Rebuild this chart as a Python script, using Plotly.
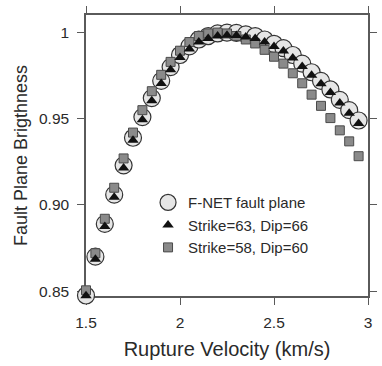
import plotly.graph_objects as go

velocity = [1.50, 1.55, 1.60, 1.65, 1.70, 1.75, 1.80, 1.85, 1.90, 1.95,
            2.00, 2.05, 2.10, 2.15, 2.20, 2.25, 2.30, 2.35, 2.40, 2.45,
            2.50, 2.55, 2.60, 2.65, 2.70, 2.75, 2.80, 2.85, 2.90, 2.95]

fnet = [0.8475, 0.870, 0.889, 0.906, 0.923, 0.939, 0.951, 0.962, 0.972, 0.980,
        0.987, 0.992, 0.996, 0.998, 0.9995, 1.000, 0.9998, 0.999, 0.998, 0.996,
        0.9935, 0.991, 0.987, 0.982, 0.977, 0.972, 0.967, 0.961, 0.955, 0.949]

s63d66 = [0.8474, 0.8685, 0.8875, 0.9045, 0.9215, 0.9375, 0.9495, 0.9605, 0.9705, 0.9785,
          0.9855, 0.9905, 0.9945, 0.9965, 0.998, 0.9985, 0.9983, 0.9975, 0.9965, 0.9945,
          0.992, 0.9893, 0.9853, 0.9803, 0.9753, 0.9703, 0.9652, 0.9592, 0.9532, 0.9472]

s58d60 = [0.8505, 0.872, 0.892, 0.910, 0.927, 0.942, 0.955, 0.966, 0.9755, 0.983,
          0.9895, 0.9945, 0.998, 0.9995, 1.000, 0.9995, 0.998, 0.996, 0.9937, 0.990,
          0.986, 0.982, 0.9764, 0.9706, 0.964, 0.9575, 0.9504, 0.9433, 0.9369, 0.9283]

series_names = ["F-NET fault plane", "Strike=63, Dip=66", "Strike=58, Dip=60"]
x_ticks = [1.5, 2, 2.5, 3]
x_ticktext = ["1.5", "2", "2.5", "3"]
y_ticks = [0.85, 0.90, 0.95, 1.0]
y_ticktext = ["0.85", "0.90", "0.95", "1"]

FONT = "Liberation Sans, Arial, sans-serif"
TXT = "#2a2a2a"

fig = go.Figure()
fig.add_trace(go.Scatter(
    x=velocity, y=fnet, mode="markers", name=series_names[0], cliponaxis=False,
    legendrank=1,
    marker=dict(symbol="circle", size=17, color="#e6e6e6",
                line=dict(color="#333333", width=1.2))))
fig.add_trace(go.Scatter(
    x=velocity, y=s58d60, mode="markers", name=series_names[2], cliponaxis=False,
    legendrank=3,
    marker=dict(symbol="square", size=9, color="#8a8a8a",
                line=dict(color="#4a4a4a", width=1))))
fig.add_trace(go.Scatter(
    x=velocity, y=s63d66, mode="markers", name=series_names[1], cliponaxis=False,
    legendrank=2,
    marker=dict(symbol="triangle-up", size=10, color="#111111",
                line=dict(color="#111111", width=0))))

axis_common = dict(showline=True, linecolor="#5a5a5a", linewidth=1.5, mirror="ticks",
                   ticks="outside", ticklen=7, tickwidth=1.2, tickcolor="#5a5a5a",
                   showgrid=False, zeroline=False, layer="below traces",
                   automargin=False,
                   tickfont=dict(family=FONT, size=15.5, color=TXT))

fig.update_xaxes(range=[1.5, 3.0], tickmode="array", tickvals=x_ticks, ticktext=x_ticktext,
                 ticklabelstandoff=5,
                 title=dict(text="Rupture Velocity (km/s)",
                            font=dict(family=FONT, size=20, color=TXT),
                            standoff=12),
                 **axis_common)
fig.update_yaxes(range=[0.8472, 1.0102], tickmode="array", tickvals=y_ticks, ticktext=y_ticktext,
                 ticklabelstandoff=5,
                 title=dict(text="Fault Plane Brigthness",
                            font=dict(family=FONT, size=18, color=TXT),
                            standoff=7),
                 **axis_common)

fig.update_layout(
    width=382, height=366,
    margin=dict(l=86, r=14, t=15, b=70),
    paper_bgcolor="white", plot_bgcolor="white",
    showlegend=True,
    legend=dict(x=0.22, y=0.391, xanchor="left", yanchor="top",
                traceorder="normal", bgcolor="rgba(0,0,0,0)",
                font=dict(family=FONT, size=15, color=TXT),
                tracegroupgap=0, itemsizing="trace"),
)

fig.write_html("out.html")
